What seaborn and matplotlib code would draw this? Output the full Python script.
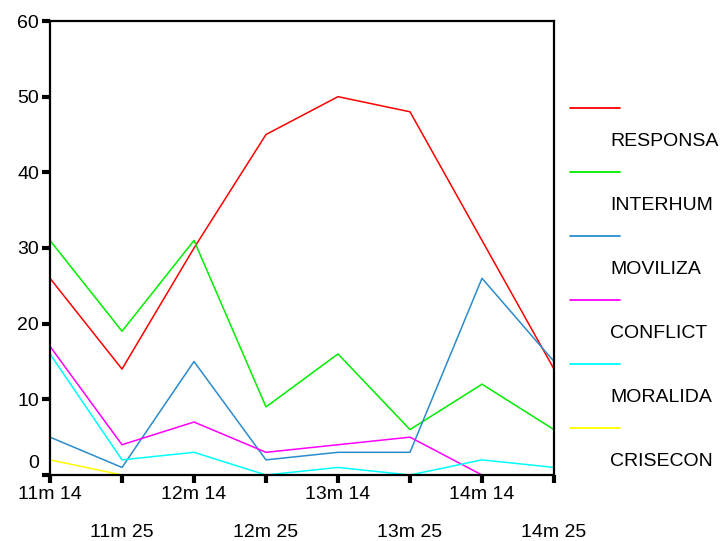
import matplotlib
matplotlib.use("Agg")
import matplotlib.pyplot as plt
import matplotlib.transforms as mtransforms
from matplotlib.lines import Line2D
import pandas as pd
import seaborn as sns

# --- datos ---
categories = ["11m 14", "11m 25", "12m 14", "12m 25", "13m 14", "13m 25", "14m 14", "14m 25"]
series_names = ["RESPONSA", "INTERHUM", "MOVILIZA", "CONFLICT", "MORALIDA", "CRISECON"]
responsa = [26, 14, 30, 45, 50, 48, 31, 14]
interhum = [31, 19, 31, 9, 16, 6, 12, 6]
moviliza = [5, 1, 15, 2, 3, 3, 26, 15]
conflict = [17, 4, 7, 3, 4, 5, 0, 0]
moralida = [16, 2, 3, 0, 1, 0, 2, 1]
crisecon = [2, 0, 0, 0, 0, 0, 0, 0]
colors = ["#ff0000", "#00ee00", "#2a8ccc", "#ff00ff", "#00ffff", "#ffff00"]

values = [responsa, interhum, moviliza, conflict, moralida, crisecon]
rows = []
for name, vals in zip(series_names, values):
    for i, v in enumerate(vals):
        rows.append({"pos": i, "valor": v, "serie": name})
df = pd.DataFrame(rows)

sns.set_style("white")
plt.rcParams["font.family"] = ["Liberation Sans", "DejaVu Sans"]
plt.rcParams["text.color"] = "black"
plt.rcParams["xtick.color"] = "black"
plt.rcParams["ytick.color"] = "black"

fig = plt.figure(figsize=(7.24, 5.41), dpi=100)
ax = fig.add_axes([50 / 724, 1 - 475 / 541, 504 / 724, 454 / 541])

sns.lineplot(data=df, x="pos", y="valor", hue="serie", hue_order=series_names,
             palette=colors, linewidth=1.1, legend=False, ax=ax)

ax.set_xlim(0, len(categories) - 1)
ax.set_ylim(0, 60)
ax.set_xlabel("")
ax.set_ylabel("")
for s in ax.spines.values():
    s.set_color("black")
    s.set_linewidth(1.6)

ax.set_xticks(range(len(categories)))
ax.set_xticklabels(categories, fontsize=14)
ax.set_yticks(range(0, 61, 10))
ax.set_yticklabels([str(t) for t in range(0, 61, 10)], fontsize=14)
ax.tick_params(axis="both", which="major", bottom=True, left=True, direction="out",
               length=6, width=3, color="black", labelcolor="black", pad=2)

# etiquetas alternas en dos filas
for i, lab in enumerate(ax.get_xticklabels()):
    if i % 2 == 1:
        lab.set_y(-0.083)

# el "0" del eje Y va algo elevado
zero = ax.get_yticklabels()[0]
zero.set_transform(zero.get_transform() + mtransforms.ScaledTranslation(0, 13 / 100, fig.dpi_scale_trans))

# leyenda estilo SPSS: linea arriba, nombre debajo
for k, (name, col) in enumerate(zip(series_names, colors)):
    y_line = 1 - (108 + 64 * k) / 541
    y_text = 1 - (142 + 64 * k) / 541
    fig.add_artist(Line2D([570 / 724, 620 / 724], [y_line, y_line], color=col,
                          linewidth=1.3, transform=fig.transFigure))
    fig.text(610 / 724, y_text, name, fontsize=14, va="center", ha="left", color="black")

fig.savefig("out.png", dpi=100)
